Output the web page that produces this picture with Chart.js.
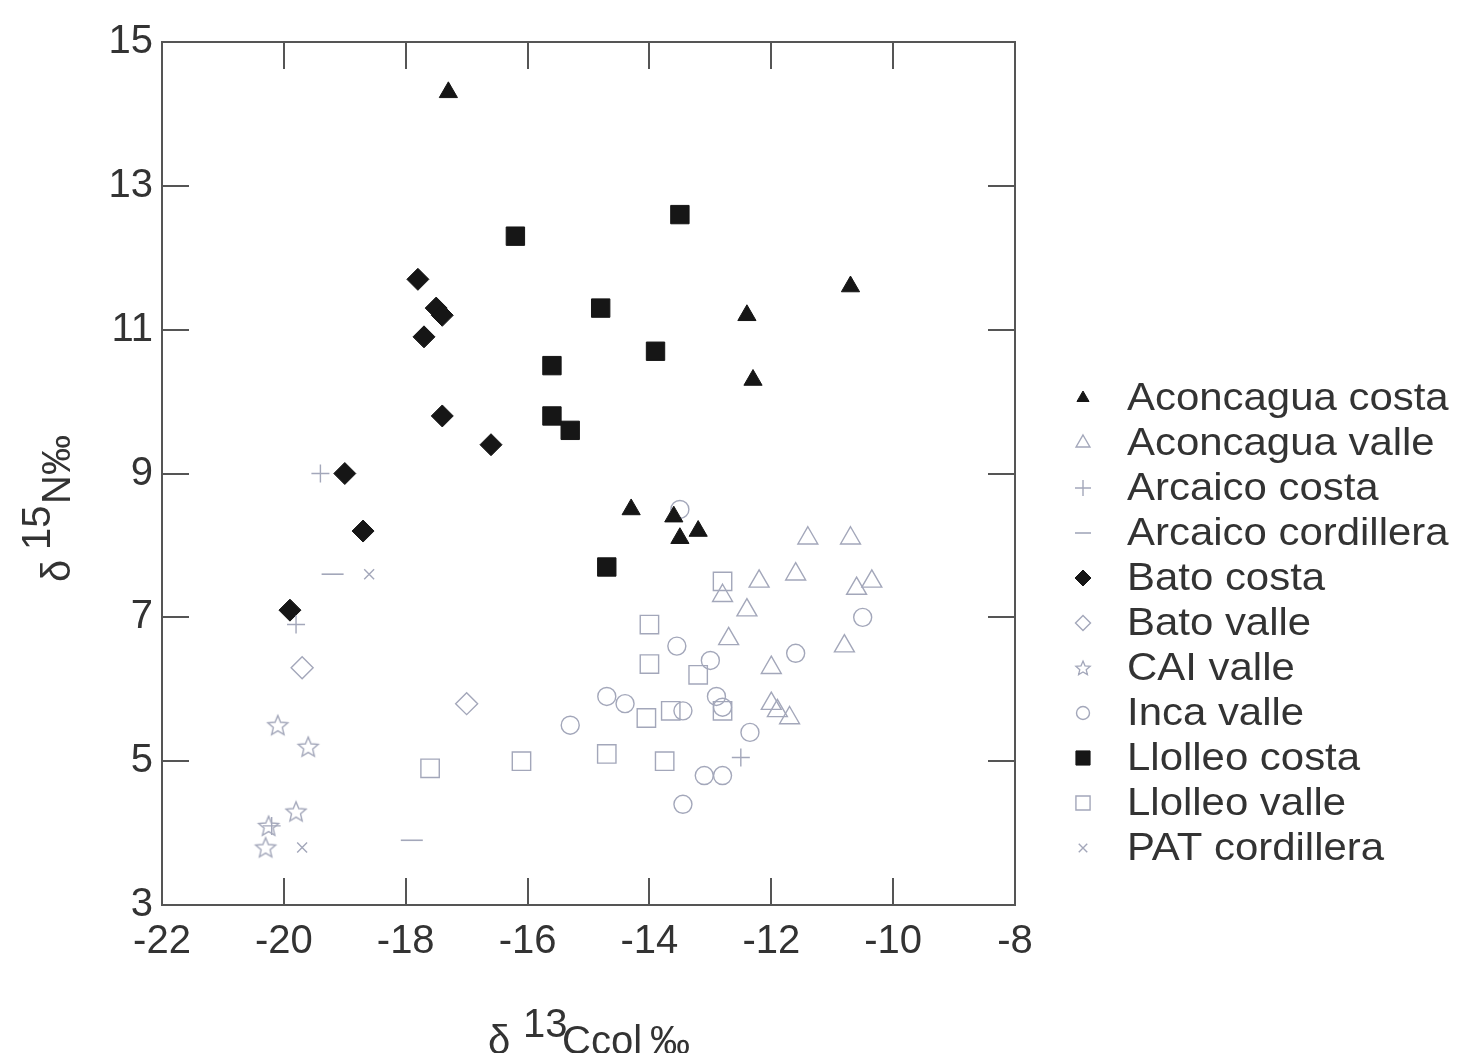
<!DOCTYPE html>
<html><head><meta charset="utf-8">
<script src="https://cdn.jsdelivr.net/npm/chart.js@4.4.1/dist/chart.umd.min.js"></script>
<style>html,body{margin:0;padding:0;background:#fff}#wrap{width:1457px;height:1053px}</style>
</head><body><div id="wrap"><canvas id="c" width="1457" height="1053"></canvas></div>
<script>
// ---- data (δ13Ccol ‰, δ15N ‰) ----
const seriesNames = ['Aconcagua costa','Aconcagua valle','Arcaico costa','Arcaico cordillera','Bato costa','Bato valle','CAI valle','Inca valle','Llolleo costa','Llolleo valle','PAT cordillera'];
const aconcaguaCosta = [[-17.3,14.3],[-10.7,11.6],[-12.4,11.2],[-12.3,10.3],[-14.3,8.5],[-13.6,8.4],[-13.5,8.1],[-13.2,8.2]];
const aconcaguaValle = [[-11.4,8.1],[-10.7,8.1],[-12.2,7.5],[-11.6,7.6],[-12.4,7.1],[-12.8,7.3],[-10.6,7.4],[-10.35,7.5],[-10.8,6.6],[-12.0,6.3],[-12.7,6.7],[-12.0,5.8],[-11.9,5.7],[-11.7,5.6]];
const arcaicoCosta = [[-19.4,9.0],[-19.8,6.9],[-12.5,5.05],[-20.2,4.1]];
const arcaicoCordillera = [[-19.2,7.6],[-17.9,3.9]];
const batoCosta = [[-17.8,11.7],[-17.5,11.3],[-17.4,11.2],[-17.7,10.9],[-17.4,9.8],[-16.6,9.4],[-19.0,9.0],[-18.7,8.2],[-19.9,7.1]];
const batoValle = [[-19.7,6.3],[-17.0,5.8]];
const caiValle = [[-20.1,5.5],[-19.6,5.2],[-19.8,4.3],[-20.25,4.1],[-20.3,3.8]];
const incaValle = [[-13.5,8.5],[-13.55,6.6],[-13.0,6.4],[-14.7,5.9],[-14.4,5.8],[-15.3,5.5],[-13.45,5.7],[-12.9,5.9],[-12.8,5.75],[-12.35,5.4],[-13.1,4.8],[-12.8,4.8],[-13.45,4.4],[-11.6,6.5],[-10.5,7.0]];
const llolleoCosta = [[-13.5,12.6],[-16.2,12.3],[-14.8,11.3],[-13.9,10.7],[-15.6,10.5],[-15.6,9.8],[-15.3,9.6],[-14.7,7.7]];
const llolleoValle = [[-17.6,4.9],[-16.1,5.0],[-12.8,7.5],[-14.7,5.1],[-13.75,5.0],[-14.05,5.6],[-13.65,5.7],[-12.8,5.7],[-13.2,6.2],[-14.0,6.9],[-14.0,6.35]];
const patCordillera = [[-18.6,7.6],[-19.7,3.8]];
const xTicks = [-22,-20,-18,-16,-14,-12,-10,-8];
const yTicks = [3,5,7,9,11,13,15];
const xTitle = ['δ','13','Ccol','‰'];
const yTitle = ['δ','15','N‰'];

// ---- styles ----
const DARK = '#161616';
const LIGHT = '#a3a7ba';
function makeStar(r, color, lw){
  const s = Math.ceil(2*r + lw*2 + 2);
  const c = document.createElement('canvas'); c.width = s; c.height = s;
  const g = c.getContext('2d'); g.strokeStyle = color; g.lineWidth = lw; g.lineJoin='miter';
  g.beginPath();
  for (let i=0;i<10;i++){
    const a = -Math.PI/2 + i*Math.PI/5, rr = (i%2) ? r*0.45 : r;
    const px = s/2 + rr*Math.cos(a), py = s/2 + rr*Math.sin(a) + r*0.08;
    if (i===0) g.moveTo(px,py); else g.lineTo(px,py);
  }
  g.closePath(); g.stroke(); return c;
}
const starBig = makeStar(10.5, LIGHT, 1.4);
const starSmall = makeStar(7.5, LIGHT, 1.3);

const seriesData = [aconcaguaCosta, aconcaguaValle, arcaicoCosta, arcaicoCordillera, batoCosta, batoValle, caiValle, incaValle, llolleoCosta, llolleoValle, patCordillera];
const seriesStyle = [
  {ps:'triangle', r:10.5, fill:DARK, stroke:DARK, lw:1, lr:7},
  {ps:'triangle', r:11.5, fill:'rgba(0,0,0,0)', stroke:LIGHT, lw:1.4, lr:8},
  {ps:'cross', r:9, fill:'rgba(0,0,0,0)', stroke:LIGHT, lw:1.4, lr:8},
  {ps:'line', r:11, fill:'rgba(0,0,0,0)', stroke:LIGHT, lw:1.6, lr:8},
  {ps:'rectRot', r:11, fill:DARK, stroke:DARK, lw:1, lr:8},
  {ps:'rectRot', r:11, fill:'rgba(0,0,0,0)', stroke:LIGHT, lw:1.4, lr:7.5},
  {ps:starBig, r:10, fill:'rgba(0,0,0,0)', stroke:LIGHT, lw:1.4, lr:7.5, legendImg:starSmall},
  {ps:'circle', r:9, fill:'rgba(0,0,0,0)', stroke:LIGHT, lw:1.4, lr:6.5},
  {ps:'rect', r:13, fill:DARK, stroke:DARK, lw:1, lr:10},
  {ps:'rect', r:13, fill:'rgba(0,0,0,0)', stroke:LIGHT, lw:1.4, lr:10},
  {ps:'crossRot', r:7, fill:'rgba(0,0,0,0)', stroke:LIGHT, lw:1.4, lr:6}
];

const datasets = seriesNames.map((n,i)=>({
  label:n,
  data: seriesData[i].map(p=>({x:p[0], y:p[1]})),
  pointStyle: seriesStyle[i].ps,
  pointRadius: seriesStyle[i].r,
  pointHoverRadius: seriesStyle[i].r,
  backgroundColor: seriesStyle[i].fill,
  borderColor: seriesStyle[i].stroke,
  borderWidth: seriesStyle[i].lw,
  showLine:false
}));

const FONT = "'Liberation Sans', Arial, Helvetica, sans-serif";
const TXT = '#333';
const AX = '#555';

const framePlugin = {
  id:'frame',
  afterDraw(chart){
    const {ctx, chartArea:a, scales:{x, y}} = chart;
    ctx.save();
    // box
    ctx.strokeStyle = AX; ctx.lineWidth = 2;
    ctx.strokeRect(a.left, a.top, a.right-a.left, a.bottom-a.top);
    // inward ticks
    const TL = 27;
    ctx.beginPath();
    x.ticks.forEach(t=>{
      const px = Math.round(x.getPixelForValue(t.value));
      if (px <= a.left+1 || px >= a.right-1) return;
      ctx.moveTo(px, a.bottom); ctx.lineTo(px, a.bottom-TL);
      ctx.moveTo(px, a.top); ctx.lineTo(px, a.top+TL);
    });
    y.ticks.forEach(t=>{
      const py = Math.round(y.getPixelForValue(t.value));
      if (py <= a.top+1 || py >= a.bottom-1) return;
      ctx.moveTo(a.left, py); ctx.lineTo(a.left+TL, py);
      ctx.moveTo(a.right, py); ctx.lineTo(a.right-TL, py);
    });
    ctx.stroke();

    // axis titles
    ctx.fillStyle = TXT;
    ctx.font = '40px ' + FONT;
    ctx.textBaseline = 'alphabetic';
    ctx.textAlign = 'left';
    // x title
    let bx = 488, by = 1054;
    ctx.fillText(xTitle[0], bx, by);
    ctx.fillText(xTitle[1], bx+35, by-17);
    ctx.fillText(xTitle[2], bx+74, by);
    ctx.fillText(xTitle[3], bx+ 74 + ctx.measureText(xTitle[2]).width + 8, by);
    // y title (rotated)
    ctx.save();
    ctx.translate(70, 582);
    ctx.rotate(-Math.PI/2);
    ctx.fillText(yTitle[0], 0, 0);
    ctx.fillText(yTitle[1], 32, -20);
    ctx.fillText(yTitle[2], 78, 0);
    ctx.restore();

    // legend
    const lx = 1083, tx = 1127, ly0 = 398, step = 45;
    ctx.font = '39px ' + FONT;
    ctx.textBaseline = 'middle';
    seriesNames.forEach((n,i)=>{
      const s = seriesStyle[i];
      const cy = ly0 + i*step;
      ctx.save();
      ctx.fillStyle = s.fill; ctx.strokeStyle = s.stroke; ctx.lineWidth = s.lw;
      Chart.helpers.drawPoint(ctx, {pointStyle: s.legendImg || s.ps, radius: s.lr, rotation:0, borderWidth:s.lw}, lx, cy);
      ctx.restore();
      ctx.save();
      ctx.translate(tx, cy+1);
      ctx.scale(1.075, 1);
      ctx.fillStyle = TXT;
      ctx.fillText(n, 0, 0);
      ctx.restore();
    });
    ctx.restore();
  }
};

new Chart(document.getElementById('c'), {
  type:'scatter',
  data:{datasets},
  options:{
    responsive:false,
    animation:false,
    events:[],
    layout:{padding:{left:0, top:42, right:442, bottom:0}},
    plugins:{legend:{display:false}, tooltip:{enabled:false}},
    scales:{
      x:{
        type:'linear', min:-22, max:-8,
        afterBuildTicks: s => { s.ticks = xTicks.map(v=>({value:v})); },
        afterFit: s => { s.height = 148; },
        grid:{display:false, drawTicks:false},
        border:{display:false},
        ticks:{font:{size:40, family:FONT}, color:TXT, padding:13, maxRotation:0, autoSkip:false}
      },
      y:{
        type:'linear', min:3, max:15,
        afterBuildTicks: s => { s.ticks = yTicks.map(v=>({value:v})); },
        afterFit: s => { s.width = 162; },
        grid:{display:false, drawTicks:false},
        border:{display:false},
        ticks:{font:{size:40, family:FONT}, color:TXT, padding:9, autoSkip:false}
      }
    }
  },
  plugins:[framePlugin]
});
</script>
</body></html>
